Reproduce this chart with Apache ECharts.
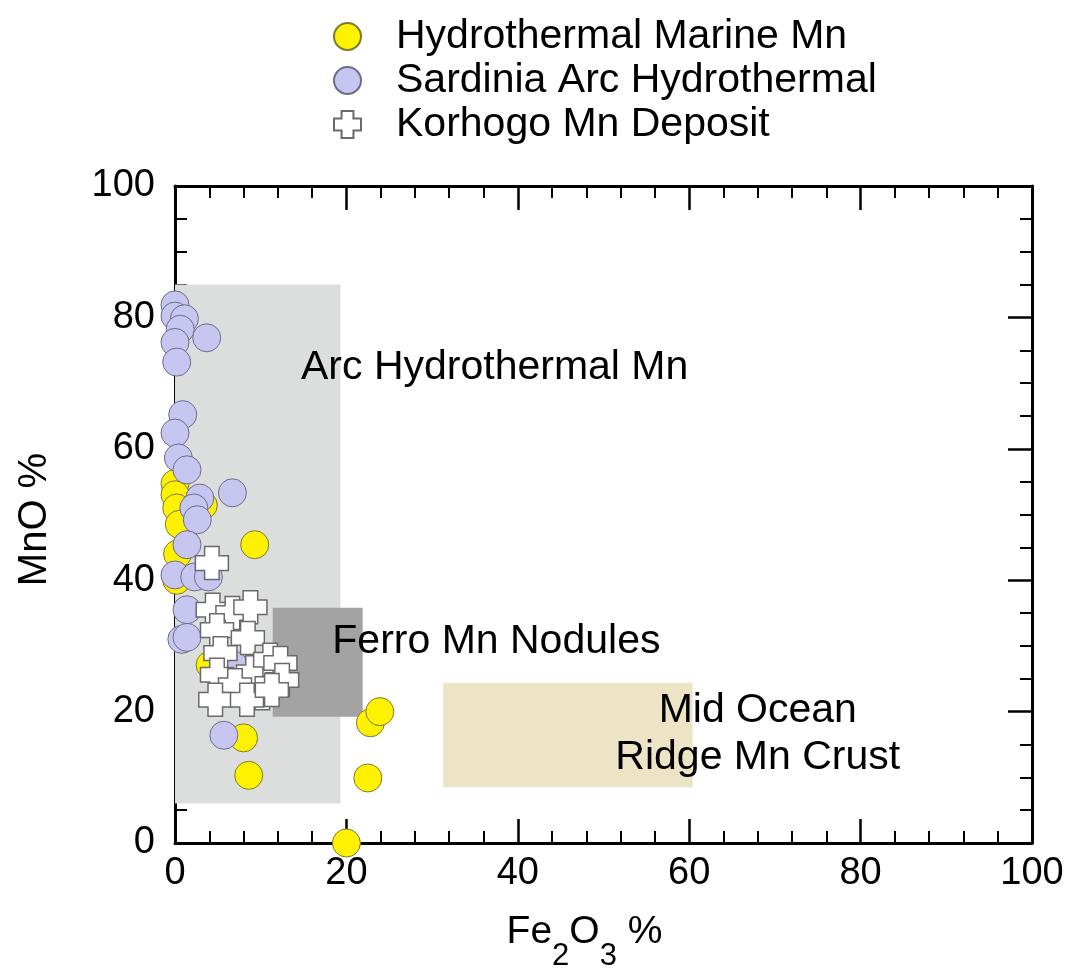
<!DOCTYPE html>
<html>
<head>
<meta charset="utf-8">
<script src="https://cdn.jsdelivr.net/npm/echarts@6/dist/echarts.min.js"></script>
<style>
html,body{margin:0;padding:0;background:#fff;}
#chart{width:1075px;height:968px;}
</style>
</head>
<body>
<div id="chart"></div>
<script>
// ---- data ----
const seriesNames = ['Hydrothermal Marine Mn', 'Sardinia Arc Hydrothermal', 'Korhogo Mn Deposit'];

// [Fe2O3 %, MnO %]
const hydrothermalMarine = [
  [9.3,45.4],[0,54.7],[0,53],[0.2,51],[0.5,48.5],[3.3,51.4],[0.3,44],[0.2,40],
  [4.1,27.1],[6.1,24.5],[8,16],[8.6,10.3],[22.5,9.9],[22.8,18.3],[23.9,20],[20,0]
];
const sardiniaArc = [
  [0,81.9],[0,80.2],[1.1,79.8],[0.6,78.2],[3.7,76.9],[0,76.2],[0.2,73.2],[0.9,65.2],
  [0,62.4],[0.4,58.6],[1.4,56.8],[6.7,53.3],[2.9,52.5],[2.2,51],[2.6,49.2],[1.4,45.4],
  [0,40.8],[2.3,40.5],[3.9,40.5],[1.4,35.5],[0.8,31],[1.4,31.3],[6.8,27.1],[5.7,16.4]
];
const korhogo = [
  [4.3,42.6],[4.4,35.5],[6.7,35.0],[8.8,35.9],[4.9,32.4],[8.5,31.2],[5.3,28.9],[4.9,25.6],
  [9.1,26.0],[11.1,27.9],[12.3,27.4],[12.5,24.8],[7.0,24.0],[10.2,22.8],[4.7,21.8],[8.4,21.8],
  [11.3,23.3]
];

// field boxes: [[xMin, yMin], [xMax, yMax]]
const arcBox = [[0, 6], [19.3, 85]];
const ferroBox = [[11.4, 19.2], [21.9, 35.8]];
const midOceanBox = [[31.3, 8.5], [60.4, 24.4]];

// annotation labels: [x, y, text]
const annotations = [
  [37.3, 72.3, 'Arc Hydrothermal Mn'],
  [37.5, 30.6, 'Ferro Mn Nodules'],
  [68.0, 16.6, 'Mid Ocean\nRidge Mn Crust']
];

const xTicks = [0, 20, 40, 60, 80, 100];
const yTicks = [0, 20, 40, 60, 80, 100];

// ---- chart ----
const FONT = '"Liberation Sans", Arial, sans-serif';
const crossPath = 'path://M28,0 H72 V28 H100 V72 H72 V100 H28 V72 H0 V28 H28 Z';

function axisCommon(showLabel, minorSplit) {
  return {
    type: 'value', min: xTicks[0], max: xTicks[xTicks.length - 1], interval: 20,
    axisLine: {show: true, onZero: false, lineStyle: {color: '#000', width: 3}},
    axisTick: {show: true, inside: true, length: 24, lineStyle: {color: '#000', width: 2.5}},
    minorTick: {show: true, splitNumber: minorSplit, length: 12, lineStyle: {color: '#000', width: 2}},
    splitLine: {show: false},
    minorSplitLine: {show: false},
    axisLabel: {show: showLabel, color: '#000', fontSize: 38, fontFamily: FONT}
  };
}

const chart = echarts.init(document.getElementById('chart'), null, {renderer: 'canvas'});

const xBottom = Object.assign(axisCommon(true, 5), {
  position: 'bottom',
  name: 'Fe{s|2}O{s|3} %',
  nameLocation: 'middle',
  nameGap: 68,
  nameTextStyle: {
    color: '#000', fontSize: 39, fontFamily: FONT, lineHeight: 42, verticalAlign: 'top',
    padding: [0, 38, 0, 0],
    rich: {
      s: {fontSize: 31, fontFamily: FONT, color: '#000', lineHeight: 30, padding: [30, 0, 0, 0], verticalAlign: 'top'}
    }
  },
  axisLabel: {show: true, color: '#000', fontSize: 38, fontFamily: FONT, margin: 12}
});
const xTop = Object.assign(axisCommon(false, 5), {position: 'top'});
const yLeft = Object.assign(axisCommon(true, 4), {
  min: yTicks[0], max: yTicks[yTicks.length - 1],
  position: 'left',
  name: 'MnO %', nameLocation: 'middle', nameGap: 120,
  nameTextStyle: {color: '#000', fontSize: 40, fontFamily: FONT, padding: [0, 10, 0, 0]},
  axisLabel: {show: true, color: '#000', fontSize: 38, fontFamily: FONT, margin: 20}
});
const yRight = Object.assign(axisCommon(false, 4), {min: yTicks[0], max: yTicks[yTicks.length - 1], position: 'right'});

function box(b, color) {
  return [{coord: b[0], itemStyle: {color: color, opacity: 1}}, {coord: b[1]}];
}

const option = {
  backgroundColor: '#fff',
  animation: false,
  grid: {left: 175, right: 43, top: 186, bottom: 125, containLabel: false, outerBoundsMode: 'none'},
  legend: {
    orient: 'vertical', left: 328, top: 11, itemGap: 3,
    itemWidth: 27, itemHeight: 27,
    data: seriesNames,
    textStyle: {color: '#000', fontSize: 41, fontFamily: FONT, padding: [0, 0, 0, 30], lineHeight: 40}
  },
  xAxis: [xBottom, xTop],
  yAxis: [yLeft, yRight],
  series: [
    {
      name: 'fields', type: 'scatter', data: [], z: 1, silent: true,
      markArea: {
        silent: true,
        data: [
          box(arcBox, '#dcdddd'),
          box(midOceanBox, '#ede4c6'),
          box(ferroBox, '#a3a3a3')
        ]
      }
    },
    {
      name: 'labels', type: 'scatter', z: 2, silent: true, symbolSize: 0,
      itemStyle: {opacity: 1},
      data: annotations.map(a => ({value: [a[0], a[1]], name: a[2]})),
      label: {
        show: true, position: 'inside', formatter: p => p.name, opacity: 1,
        color: '#000', fontSize: 41, fontFamily: FONT, lineHeight: 47, align: 'center'
      }
    },
    {
      name: seriesNames[0], type: 'scatter', z: 3, clip: false,
      symbol: 'circle', symbolSize: 28,
      itemStyle: {color: '#fff200', borderColor: '#7d7a30', borderWidth: 1, opacity: 1},
      data: hydrothermalMarine
    },
    {
      name: seriesNames[1], type: 'scatter', z: 4, clip: false,
      symbol: 'circle', symbolSize: 28,
      itemStyle: {color: '#c6c6f0', borderColor: '#6c6c8c', borderWidth: 1, opacity: 1},
      data: sardiniaArc
    },
    {
      name: seriesNames[2], type: 'scatter', z: 5, clip: false,
      symbol: crossPath, symbolSize: 33,
      itemStyle: {color: '#ffffff', borderColor: '#6a6a6a', borderWidth: 1.5, opacity: 1},
      data: korhogo
    }
  ]
};
chart.setOption(option);
</script>
</body>
</html>
